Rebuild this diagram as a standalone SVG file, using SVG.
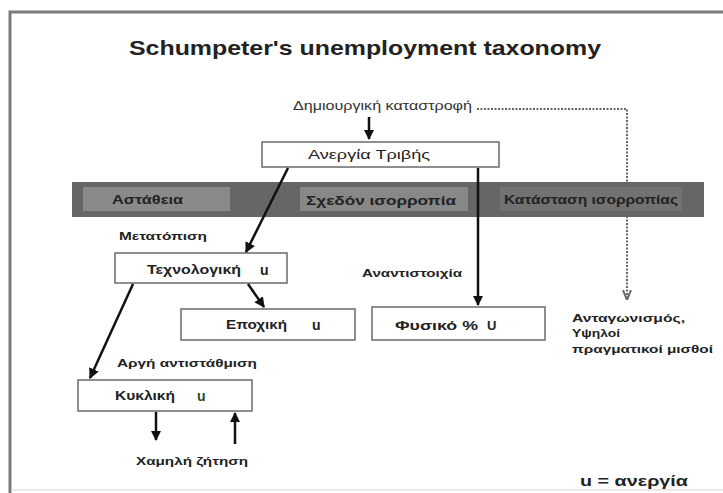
<svg xmlns="http://www.w3.org/2000/svg" width="723" height="493" viewBox="0 0 723 493">
  <defs>
    <marker id="head" viewBox="0 0 10 10" refX="9" refY="5" markerWidth="4.2" markerHeight="4.2" orient="auto" markerUnits="strokeWidth">
      <path d="M0,0 L10,5 L0,10 Z" fill="#111"/>
    </marker>
    <marker id="head-dot" viewBox="0 0 10 10" refX="9" refY="5" markerWidth="5" markerHeight="5" orient="auto" markerUnits="strokeWidth">
      <path d="M0,1 L10,5 L0,9" fill="none" stroke="#666" stroke-width="2"/>
    </marker>
    <style>
      .t { font-family: "Liberation Sans", Arial, sans-serif; fill: #222; }
      .b { font-weight: bold; }
      .box { fill: #fff; stroke: #6a6a6a; stroke-width: 1.5; }
      .arrow { stroke: #111; stroke-width: 2.5; fill: none; marker-end: url(#head); }
      .dotted { stroke: #666; stroke-width: 2; stroke-dasharray: 2 1.5; fill: none; }
    </style>
  </defs>

  <rect width="723" height="493" fill="#fff"/>

  <!-- slide frame -->
  <g id="frame" fill="none">
    <path d="M10,493 V12 H723" stroke="#7a7a7a" stroke-width="3"/>
    <path d="M11,490 H723" stroke="#e2e2e2" stroke-width="1.5"/>
  </g>

  <text class="t b" x="365" y="55" font-size="21" text-anchor="middle" textLength="472" lengthAdjust="spacingAndGlyphs">Schumpeter's unemployment taxonomy</text>

  <!-- dotted link from creative destruction, drawn under the band -->
  <g id="connector-dotted">
    <path class="dotted" d="M477,109 H627 V182"/>
    <path class="dotted" d="M627,216 V299" marker-end="url(#head-dot)"/>
  </g>

  <!-- equilibrium band -->
  <g id="band">
    <rect x="72" y="182" width="632" height="35" fill="#666"/>
    <rect x="83" y="187" width="147" height="24" fill="#8a8a8a"/>
    <rect x="300" y="187" width="168" height="24" fill="#888"/>
    <rect x="500" y="187" width="182" height="24" fill="#727272"/>
    <text class="t b" x="112" y="204" font-size="12" textLength="71" lengthAdjust="spacingAndGlyphs">Αστάθεια</text>
    <text class="t b" x="306" y="205" font-size="13" textLength="150" lengthAdjust="spacingAndGlyphs">Σχεδόν ισορροπία</text>
    <text class="t b" x="504" y="204" font-size="12" textLength="174" lengthAdjust="spacingAndGlyphs">Κατάσταση ισορροπίας</text>
  </g>

  <g id="creative-destruction">
    <text class="t" x="293" y="110" font-size="12" fill="#333" style="fill:#333" textLength="179" lengthAdjust="spacingAndGlyphs">Δημιουργική καταστροφή</text>
  </g>

  <g id="frictional">
    <rect class="box" x="262" y="142" width="237" height="25"/>
    <text class="t" x="308" y="159" font-size="13" textLength="122" lengthAdjust="spacingAndGlyphs">Ανεργία Τριβής</text>
  </g>

  <g id="technological">
    <text class="t b" x="119" y="240" font-size="11" textLength="88" lengthAdjust="spacingAndGlyphs">Μετατόπιση</text>
    <rect class="box" x="115" y="253" width="172" height="30"/>
    <text class="t b" x="147" y="274" font-size="12" textLength="94" lengthAdjust="spacingAndGlyphs">Τεχνολογική</text>
    <text class="t b" x="260" y="275" font-size="14">u</text>
  </g>

  <g id="seasonal">
    <rect class="box" x="181" y="309" width="174" height="31"/>
    <text class="t b" x="226" y="329" font-size="12" textLength="61" lengthAdjust="spacingAndGlyphs">Εποχική</text>
    <text class="t b" x="312" y="330" font-size="14">u</text>
  </g>

  <g id="cyclical">
    <text class="t b" x="117" y="367" font-size="11" textLength="140" lengthAdjust="spacingAndGlyphs">Αργή αντιστάθμιση</text>
    <rect class="box" x="78" y="380" width="174" height="31"/>
    <text class="t b" x="115" y="400" font-size="12" textLength="60" lengthAdjust="spacingAndGlyphs">Κυκλική</text>
    <text class="t b" x="197" y="401" font-size="14" style="fill:#2a4a2a">u</text>
  </g>

  <g id="low-demand">
    <text class="t b" x="136" y="465" font-size="11" textLength="112" lengthAdjust="spacingAndGlyphs">Χαμηλή ζήτηση</text>
  </g>

  <g id="natural">
    <text class="t b" x="362" y="277" font-size="11" textLength="100" lengthAdjust="spacingAndGlyphs">Αναντιστοιχία</text>
    <rect class="box" x="372" y="307" width="173" height="33"/>
    <text class="t b" x="395" y="330" font-size="12" textLength="83" lengthAdjust="spacingAndGlyphs">Φυσικό %</text>
    <text class="t b" x="487" y="330" font-size="13">U</text>
  </g>

  <g id="competition">
    <text class="t b" font-size="11">
      <tspan x="572" y="322" textLength="113" lengthAdjust="spacingAndGlyphs">Ανταγωνισμός,</tspan>
      <tspan x="572" y="337" textLength="48" lengthAdjust="spacingAndGlyphs">Υψηλοί</tspan>
      <tspan x="572" y="353" textLength="141" lengthAdjust="spacingAndGlyphs">πραγματικοί μισθοί</tspan>
    </text>
  </g>

  <g id="legend">
    <text class="t b" x="580" y="486" font-size="15" textLength="108" lengthAdjust="spacingAndGlyphs">u = ανεργία</text>
  </g>

  <!-- solid connectors -->
  <g id="connectors">
    <line class="arrow" x1="369" y1="117" x2="369" y2="139"/>
    <line class="arrow" x1="288" y1="168" x2="246" y2="252"/>
    <line class="arrow" x1="478" y1="168" x2="478" y2="305"/>
    <line class="arrow" x1="133" y1="284" x2="90" y2="378"/>
    <line class="arrow" x1="248" y1="284" x2="264" y2="307"/>
    <line class="arrow" x1="156" y1="412" x2="156" y2="440"/>
    <line class="arrow" x1="235" y1="444" x2="235" y2="413"/>
  </g>
</svg>
